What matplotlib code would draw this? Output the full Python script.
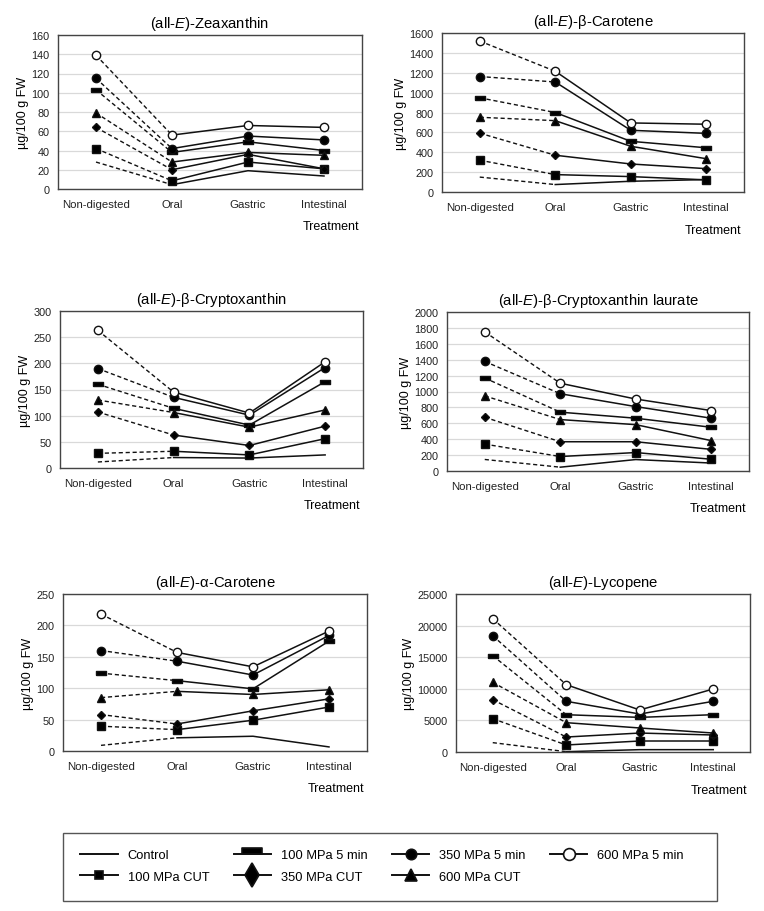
""" Carotenoid content along in vitro digestion, six panels. """

import matplotlib.pyplot as plt
from matplotlib.lines import Line2D
from matplotlib.patches import Rectangle

plt.rcParams['font.family'] = ['Liberation Sans', 'DejaVu Sans']
plt.rcParams['mathtext.fontset'] = 'custom'
plt.rcParams['mathtext.rm'] = 'Liberation Sans'
plt.rcParams['mathtext.it'] = 'Liberation Sans:italic'

# Data
stages = ['Non-digested', 'Oral', 'Gastric', 'Intestinal']
treatments = ['Control', '100 MPa 5 min', '350 MPa 5 min', '600 MPa 5 min',
              '100 MPa CUT', '350 MPa CUT', '600 MPa CUT']

zeaxanthin = [
    [28, 4.5, 19, 13.5],
    [103, 38, 49, 40],
    [115, 42, 55, 51],
    [139, 56, 66, 64],
    [42, 8.5, 28, 21],
    [64, 20, 36, 21],
    [79, 28, 38, 35],
]
beta_carotene = [
    [150, 75, 108, 125],
    [948, 800, 510, 445],
    [1162, 1107, 621, 590],
    [1519, 1215, 695, 682],
    [320, 175, 155, 122],
    [592, 370, 282, 235],
    [752, 718, 460, 335],
]
beta_cryptoxanthin = [
    [11.5, 20, 19, 25],
    [160, 114, 82, 165],
    [190, 135, 101, 192],
    [263, 145, 105, 203],
    [28, 32, 25, 56],
    [107, 63, 43, 80],
    [130, 106, 78, 111],
]
cryptoxanthin_laurate = [
    [145, 48, 144, 100],
    [1170, 740, 664, 550],
    [1378, 972, 810, 664],
    [1750, 1104, 905, 760],
    [338, 182, 232, 148],
    [676, 368, 368, 272],
    [945, 647, 583, 382],
]
alpha_carotene = [
    [9, 21, 23.5, 6.5],
    [124, 112, 99, 175],
    [160, 143, 121, 184],
    [218, 157, 134, 191],
    [39.5, 34, 49, 70],
    [58, 43, 64, 83],
    [85, 95, 90, 97.5],
]
lycopene = [
    [1480, 50, 370, 370],
    [15240, 5900, 5480, 5900],
    [18400, 8020, 6010, 8020],
    [21100, 10650, 6650, 9970],
    [5270, 1110, 1740, 1740],
    [8280, 2370, 3000, 2690],
    [11020, 4640, 3800, 3000],
]

titles = [r'(all-$\mathit{E}$)-Zeaxanthin', r'(all-$\mathit{E}$)-β-Carotene',
          r'(all-$\mathit{E}$)-β-Cryptoxanthin',
          r'(all-$\mathit{E}$)-β-Cryptoxanthin laurate',
          r'(all-$\mathit{E}$)-α-Carotene', r'(all-$\mathit{E}$)-Lycopene']
panel_data = [zeaxanthin, beta_carotene, beta_cryptoxanthin,
              cryptoxanthin_laurate, alpha_carotene, lycopene]
y_max = [160, 1600, 300, 2000, 250, 25000]
y_step = [20, 200, 50, 200, 50, 5000]

# Panel rectangles in pixels (left, top, right, bottom)
boxes = [(58, 36, 362, 190), (442, 34, 744, 193),
         (60, 312, 363, 469), (447, 313, 749, 472),
         (63, 595, 367, 752), (456, 595, 750, 753)]

W, H = 764, 912

bar = [(-1.5, -0.5), (1.5, -0.5), (1.5, 0.5), (-1.5, 0.5), (-1.5, -0.5)]
bar_up = [(-1.5, 0), (1.5, 0), (1.5, 0.9), (-1.5, 0.9), (-1.5, 0)]
# (marker in plot, size, face, legend marker, legend size)
styles = {
    'Control': (None, 0, None, None, 0),
    '100 MPa 5 min': (bar, 7, 'k', bar_up, 15),
    '350 MPa 5 min': ('o', 6, 'k', 'o', 7.5),
    '600 MPa 5 min': ('o', 6, 'white', 'o', 8.5),
    '100 MPa CUT': ('s', 5.5, 'k', 's', 5.5),
    '350 MPa CUT': ('D', 4.2, 'k', 'd', 12),
    '600 MPa CUT': ('^', 6, 'k', '^', 9),
}
line_col = '#111111'

fig = plt.figure(figsize=(W / 100, H / 100), dpi=100)

for i, (l, t, r, b) in enumerate(boxes):
    ax = fig.add_axes([l / W, 1 - b / H, (r - l) / W, (b - t) / H])
    x = list(range(len(stages)))
    for name, vals in zip(treatments, panel_data[i]):
        mk, ms, fc = styles[name][:3]
        ax.plot(x[:2], vals[:2], color=line_col, lw=1, ls=(0, (3, 2)), zorder=2)
        ax.plot(x[1:], vals[1:], color=line_col, lw=1.1, zorder=2)
        if mk is not None:
            ax.plot(x, vals, ls='none', marker=mk, ms=ms,
                    mfc=fc, mec=line_col, mew=1, zorder=3)

    ax.set_xlim(-0.5, 3.5)
    ax.set_ylim(0, y_max[i])
    ax.set_yticks(range(0, y_max[i] + 1, y_step[i]))
    ax.set_xticks(x)
    ax.set_xticklabels(stages)
    ax.tick_params(length=0, colors='#222222')
    ax.tick_params(axis='x', pad=7, labelsize=8.2)
    ax.tick_params(axis='y', pad=6, labelsize=7.8)
    ax.yaxis.grid(True, color='#d9d9d9', lw=0.9, zorder=0)
    ax.set_axisbelow(True)
    for sp in ax.spines.values():
        sp.set_color('#444444')
        sp.set_linewidth(1)
    ax.set_title(titles[i], fontsize=10.7, pad=6)
    ax.set_ylabel('µg/100 g FW', fontsize=9, labelpad=2)
    ax.annotate('Treatment', xy=(1, 0), xycoords='axes fraction',
                xytext=(-2, -27), textcoords='offset points',
                ha='right', va='center', fontsize=9)

# Legend
handles = []
for name in treatments:
    mk, ms, fc, lmk, lms = styles[name]
    handles.append(Line2D([], [], color=line_col, lw=1.4,
                          marker=lmk if lmk is not None else '',
                          ms=lms, mfc=fc if fc else line_col, mec=line_col,
                          mew=1.2))
order = [0, 4, 1, 5, 2, 6, 3]
leg = fig.legend([handles[k] for k in order], [treatments[k] for k in order],
                 loc='center left', ncol=4, bbox_to_anchor=(74 / W, 1 - 867 / H),
                 fontsize=9.3, frameon=False, handlelength=2.87,
                 borderpad=0, labelspacing=0.75, handletextpad=0.78,
                 columnspacing=1.9)
fig.add_artist(Rectangle((63 / W, 1 - 902 / H), 654 / W, 68 / H,
                         transform=fig.transFigure, fill=False,
                         ec='#555555', lw=1))

fig.savefig('out.png', dpi=100)
